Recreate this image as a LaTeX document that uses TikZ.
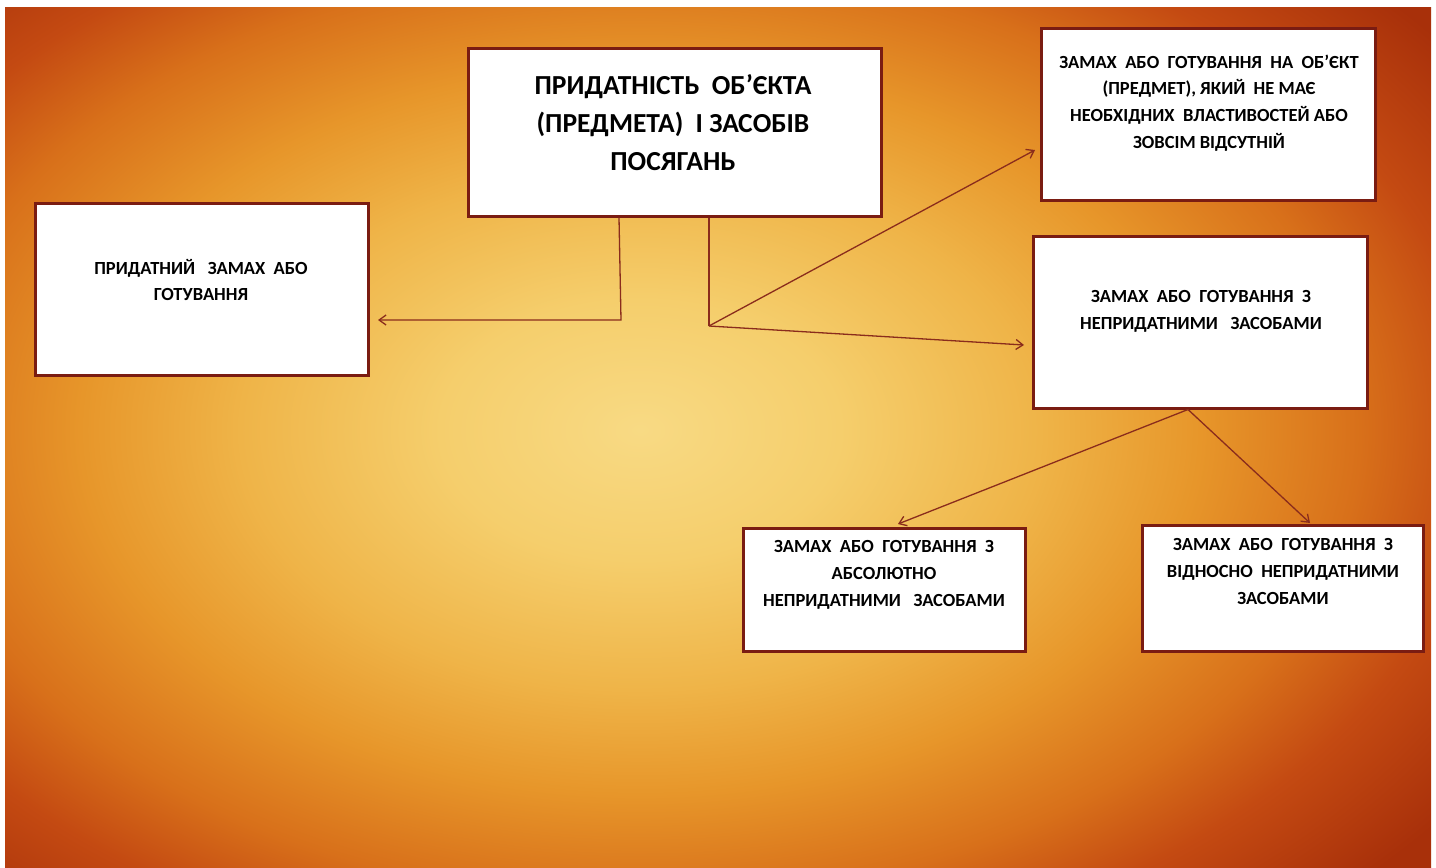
\documentclass[tikz,border=0pt]{standalone}
\usepackage{fontspec}
\setmainfont{Carlito}
\usetikzlibrary{arrows.meta}
\definecolor{boxred}{HTML}{7A1C12}
\definecolor{linered}{HTML}{8A2C1C}
\definecolor{bgA}{HTML}{F8DA84}
\definecolor{bgB}{HTML}{F5CE6C}
\definecolor{bgC}{HTML}{EFB448}
\definecolor{bgD}{HTML}{E7962A}
\definecolor{bgE}{HTML}{D8701A}
\definecolor{bgF}{HTML}{C44A12}
\definecolor{bgG}{HTML}{A8300A}
\pgfdeclareradialshading{bgshade}{\pgfpoint{0bp}{0bp}}{%
  color(0bp)=(bgA); color(3.57bp)=(bgB); color(7.14bp)=(bgC); color(10bp)=(bgD);
  color(12.86bp)=(bgE); color(15bp)=(bgF); color(17.86bp)=(bgG); color(50bp)=(bgG)}
\begin{document}
\begin{tikzpicture}[x=1pt,y=-1pt,
  box/.style={draw=boxred, line width=3pt, fill=white, inner sep=0pt},
  txt/.style={align=center, text=black, inner sep=0pt,
    font=\bfseries\fontsize{18.5}{26.7}\selectfont},
  bigtxt/.style={align=center, text=black, inner sep=0pt,
    font=\bfseries\fontsize{27.5}{38}\selectfont},
  conn/.style={draw=linered, line width=1.3pt},
  arr/.style={conn, -{Straight Barb[length=7pt,width=10pt]}}]
\useasboundingbox (0,0) rectangle (1436,868);
\fill[white] (0,0) rectangle (1436,868);
\begin{scope}
  \clip (5,7) rectangle (1431,868);
  \shade[shading=bgshade] (640,430) ellipse [x radius=1400pt, y radius=910pt];
\end{scope}

% boxes
\node[box, minimum width=413pt, minimum height=168pt] (main) at (674.5,132) {};
\node[box, minimum width=334pt, minimum height=172pt] (tr) at (1208,114) {};
\node[box, minimum width=334pt, minimum height=172pt] (rm) at (1200,322) {};
\node[box, minimum width=333pt, minimum height=172pt] (lf) at (201.5,289) {};
\node[box, minimum width=282pt, minimum height=123pt] (bl) at (884,589.5) {};
\node[box, minimum width=281pt, minimum height=126pt] (br) at (1282.5,588) {};

% texts
\node[bigtxt] (tmain) at (673,123) {ПРИДАТНІСТЬ\ \ ОБ’ЄКТА\\(ПРЕДМЕТА)\ \ І ЗАСОБІВ\\ПОСЯГАНЬ};
\node[txt] (ttr) at (1209,103) {ЗАМАХ\ \ АБО\ \ ГОТУВАННЯ\ \ НА\ \ ОБ’ЄКТ\\(ПРЕДМЕТ), ЯКИЙ\ \ НЕ МАЄ\\НЕОБХІДНИХ\ \ ВЛАСТИВОСТЕЙ АБО\\ЗОВСІМ ВІДСУТНІЙ};
\node[txt] (trm) at (1201,311.5) {ЗАМАХ\ \ АБО\ \ ГОТУВАННЯ\ \ З\\НЕПРИДАТНИМИ\ \ \ ЗАСОБАМИ};
\node[txt] (tlf) at (201,280) {ПРИДАТНИЙ\ \ \ ЗАМАХ\ \ АБО\\ГОТУВАННЯ};
\node[txt] (tbl) at (884,575) {ЗАМАХ\ \ АБО\ \ ГОТУВАННЯ\ \ З\\АБСОЛЮТНО\\НЕПРИДАТНИМИ\ \ \ ЗАСОБАМИ};
\node[txt] (tbr) at (1283,571.5) {ЗАМАХ\ \ АБО\ \ ГОТУВАННЯ\ \ З\\ВІДНОСНО\ \ НЕПРИДАТНИМИ\\ЗАСОБАМИ};

% junctions and arrow tips
\coordinate (j1) at (621,320);
\coordinate (j2) at (709,326);
\coordinate (j3) at ([xshift=-12pt]rm.south);
\coordinate (tipL) at (378,320);
\coordinate (tipTR) at (1035,150);
\coordinate (tipRM) at (1024,345);
\coordinate (tipBL) at (898,524);
\coordinate (tipBR) at (1310,523);

% connectors
\draw[arr] ([xshift=-55.5pt]main.south) -- (j1) -- (tipL);
\draw[conn] ([xshift=34.5pt]main.south) -- (j2);
\draw[arr] (j2) -- (tipTR);
\draw[arr] (j2) -- (tipRM);
\draw[arr] (j3) -- (tipBL);
\draw[arr] (j3) -- (tipBR);
\end{tikzpicture}
\end{document}
